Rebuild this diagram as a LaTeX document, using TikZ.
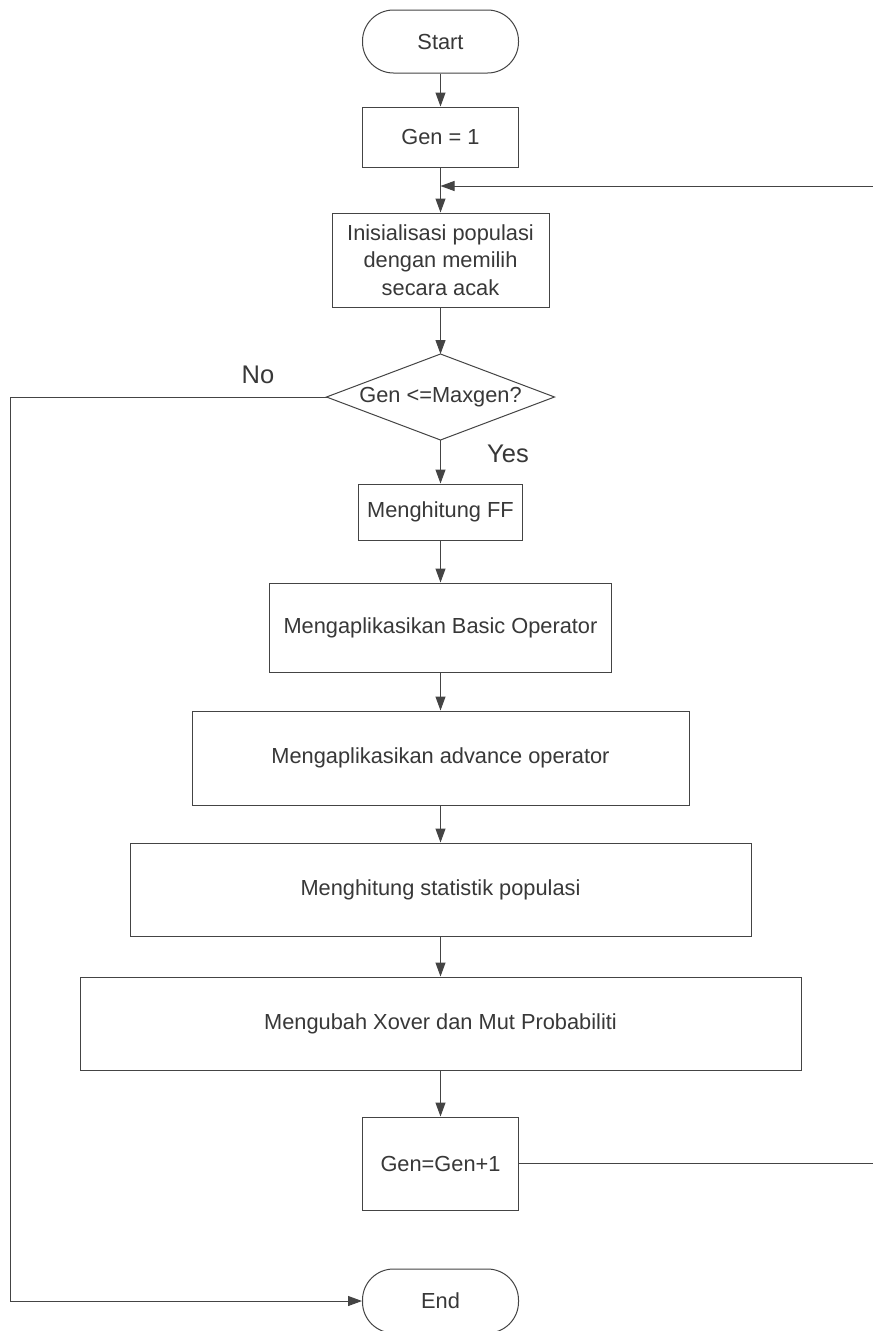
\documentclass[tikz,border=0pt]{standalone}
\usepackage{fontspec}
\setmainfont{Liberation Sans}
\usetikzlibrary{arrows.meta}
\definecolor{ln}{HTML}{444444}
\definecolor{tx}{HTML}{383838}
\tikzset{
  box/.style={draw=ln, line width=1pt, rectangle, inner sep=0pt, align=center,
    text=tx, font=\fontsize{21.8}{27.5}\selectfont},
  term/.style={box, rounded corners=31pt, minimum width=156pt, minimum height=63pt},
  lbl/.style={text=tx, font=\fontsize{25.5}{30}\selectfont, inner sep=0pt},
  arr/.style={draw=ln, line width=1pt, -{Triangle[length=14pt,width=10pt]}},
  ln/.style={draw=ln, line width=1pt},
}
\begin{document}
\begin{tikzpicture}[x=1pt,y=-1pt]
\useasboundingbox (0,0) rectangle (873,1331);
\fill[white] (0,0) rectangle (873,1331);

\node[term] (start) at (440.5,41.5) {Start};
\node[box, minimum width=156pt, minimum height=60pt] (gen1) at (440.5,137) {Gen = 1};
\node[box, minimum width=217pt, minimum height=94pt] (init) at (440.5,260) {Inisialisasi populasi\\dengan memilih\\secara acak};
\node[text=tx, font=\fontsize{21.8}{27.5}\selectfont, inner sep=0pt] (dec) at (440.5,397) {Gen <=Maxgen?};
\coordinate (decT) at (440.5,354);
\coordinate (decB) at (440.5,440);
\coordinate (decL) at (326.5,397);
\coordinate (decR) at (554.5,397);
\draw[ln] (decT) -- (decR) -- (decB) -- (decL) -- cycle;
\node[box, minimum width=164pt, minimum height=56pt] (ff) at (440.5,512) {Menghitung FF};
\node[box, minimum width=342pt, minimum height=89pt] (basic) at (440.5,627.5) {Mengaplikasikan Basic Operator};
\node[box, minimum width=497pt, minimum height=94pt] (adv) at (440.5,758) {Mengaplikasikan advance operator};
\node[box, minimum width=621pt, minimum height=93pt] (stat) at (440.5,889.5) {Menghitung statistik populasi};
\node[box, minimum width=721pt, minimum height=93pt] (xover) at (440.5,1023.5) {Mengubah Xover dan Mut Probabiliti};
\node[box, minimum width=156pt, minimum height=93pt] (gen2) at (440.5,1163.5) {Gen=Gen+1};
\node[term, minimum height=64pt] (end) at (440.5,1301) {End};

\node[lbl] (no) at (258,375) {No};
\node[lbl] (yes) at (508,454) {Yes};

\coordinate (loop) at (440.5,186);
\coordinate (rt) at (878,1163.5);
\coordinate (lt) at (10,397);

\draw[arr] (start) -- (gen1);
\draw[arr] (gen1) -- (init);
\draw[arr] (init) -- (decT);
\draw[arr] (decB) -- (ff);
\draw[arr] (ff) -- (basic);
\draw[arr] (basic) -- (adv);
\draw[arr] (adv) -- (stat);
\draw[arr] (stat) -- (xover);
\draw[arr] (xover) -- (gen2);
\draw[arr] (gen2.east) -- (rt) |- (loop);
\draw[arr] (decL) -- (lt) |- (end.west);
\end{tikzpicture}
\end{document}
